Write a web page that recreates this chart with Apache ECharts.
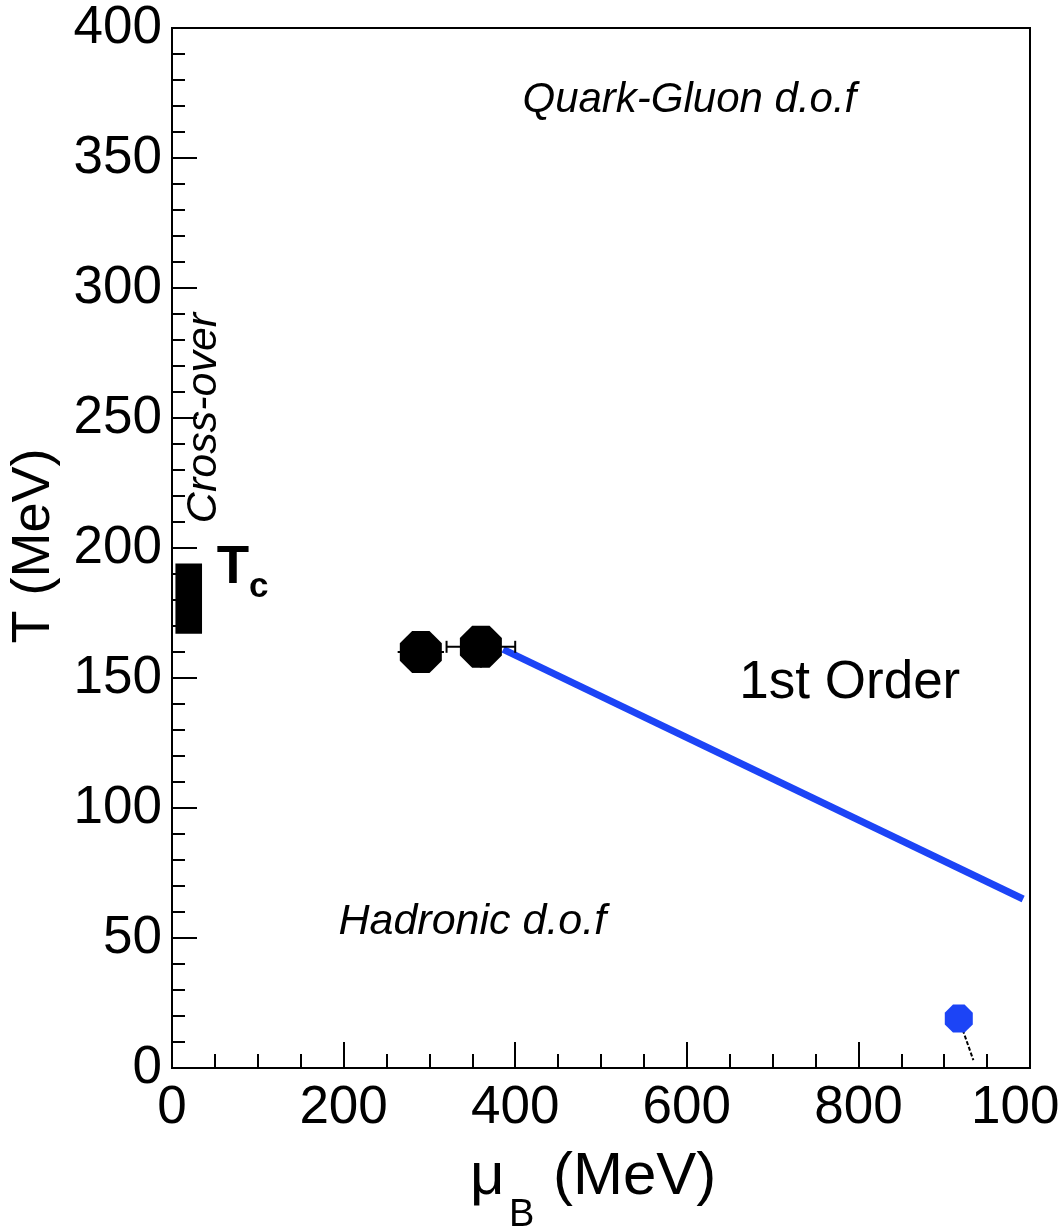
<!DOCTYPE html>
<html>
<head>
<meta charset="utf-8">
<script src="https://cdn.jsdelivr.net/npm/echarts@6/dist/echarts.min.js"></script>
<style>
  html, body { margin: 0; padding: 0; background: #ffffff; }
  #chart { width: 1061px; height: 1227px; }
</style>
</head>
<body>
<div id="chart"></div>
<script>
// Lattice estimate of the cross-over temperature (band in muB and T)
const tcBandMuB = [4, 35];
const tcBandT = [167, 194];

// Critical-point estimates with their uncertainties
const cpMuB = [290, 360];
const cpT = [160, 162];
const cpMuErr = [27, 40];
const cpTErr = [8, 8];

// First-order transition line
const firstOrderMuB = [386, 992];
const firstOrderT = [161, 65];

// Nuclear liquid-gas point and its leader line
const nuclearMuB = [917];
const nuclearT = [19];
const leaderMuB = [917, 934];
const leaderT = [19, 3];

// Region labels (anchor in muB / T)
const regionTexts = ['Quark-Gluon d.o.f', 'Hadronic d.o.f', '1st Order', 'Cross-over', 'T', 'c'];
const regionMuB = [603, 350, 790, 37, 71, 101];
const regionT = [372, 56, 148, 250, 192, 185];

const FONT = '"Liberation Sans", Arial, Helvetica, sans-serif';
const BLUE = '#1c44f6';
const OCTAGON = 'path://M0.383,-0.924L0.924,-0.383L0.924,0.383L0.383,0.924L-0.383,0.924L-0.924,0.383L-0.924,-0.383L-0.383,-0.924Z';
// whisker end-cap half heights (px) for each critical-point estimate
const CAP_HALF = [0, 6];

const regionStyles = [
  { fontSize: 42, fontStyle: 'italic', fontWeight: 'normal', rotate: 0 },
  { fontSize: 43, fontStyle: 'italic', fontWeight: 'normal', rotate: 0 },
  { fontSize: 53, fontStyle: 'normal', fontWeight: 'normal', rotate: 0 },
  { fontSize: 43, fontStyle: 'italic', fontWeight: 'normal', rotate: Math.PI / 2 },
  { fontSize: 53, fontStyle: 'normal', fontWeight: 'bold', rotate: 0 },
  { fontSize: 35, fontStyle: 'normal', fontWeight: 'bold', rotate: 0 }
];

const zip = (a, b) => a.map((v, i) => [v, b[i]]);

const chart = echarts.init(document.getElementById('chart'), null, { renderer: 'canvas' });

const axisCommon = {
  type: 'value',
  axisLine: { show: true, lineStyle: { color: '#000', width: 2 } },
  axisTick: { show: true, inside: true, lineStyle: { color: '#000', width: 2 } },
  minorTick: { show: true, lineStyle: { color: '#000', width: 2 } },
  splitLine: { show: false },
  minorSplitLine: { show: false },
  axisLabel: { color: '#000', fontSize: 53, fontFamily: FONT, formatter: (v) => String(v) }
};

chart.setOption({
  animation: false,
  backgroundColor: '#ffffff',
  grid: {
    left: 172, right: 31, top: 28, bottom: 159,
    containLabel: false,
    outerBoundsMode: 'none',
    show: true, borderColor: '#000', borderWidth: 2, backgroundColor: 'transparent'
  },
  xAxis: Object.assign({}, axisCommon, {
    min: 0, max: 1000, interval: 200,
    axisTick: Object.assign({}, axisCommon.axisTick, { length: 26 }),
    minorTick: Object.assign({}, axisCommon.minorTick, { splitNumber: 4, length: 14 }),
    axisLabel: Object.assign({}, axisCommon.axisLabel, { margin: 14, hideOverlap: false })
  }),
  yAxis: Object.assign({}, axisCommon, {
    min: 0, max: 400, interval: 50,
    axisTick: Object.assign({}, axisCommon.axisTick, { length: 25 }),
    minorTick: Object.assign({}, axisCommon.minorTick, { splitNumber: 5, length: 13 }),
    axisLabel: Object.assign({}, axisCommon.axisLabel, { margin: 10 })
  }),
  graphic: [
    {
      type: 'text', x: 34, y: 546, rotation: Math.PI / 2,
      style: { text: 'T (MeV)', fontSize: 54, fontFamily: FONT, fill: '#000', align: 'center', verticalAlign: 'middle' }
    },
    {
      type: 'text', x: 470, y: 1177,
      style: { text: 'μ', fontSize: 60, fontFamily: FONT, fill: '#000', align: 'left', verticalAlign: 'middle' }
    },
    {
      type: 'text', x: 509, y: 1216,
      style: { text: 'B', fontSize: 38, fontFamily: FONT, fill: '#000', align: 'left', verticalAlign: 'middle' }
    },
    {
      type: 'text', x: 553, y: 1177,
      style: { text: '(MeV)', fontSize: 60, fontFamily: FONT, fill: '#000', align: 'left', verticalAlign: 'middle' }
    }
  ],
  series: [
    {
      // cross-over temperature band
      type: 'custom',
      z: 3,
      data: [[tcBandMuB[0], tcBandMuB[1], tcBandT[0], tcBandT[1]]],
      renderItem: function (params, api) {
        const p0 = api.coord([api.value(0), api.value(3)]);
        const p1 = api.coord([api.value(1), api.value(2)]);
        return {
          type: 'rect',
          shape: { x: p0[0], y: p0[1], width: p1[0] - p0[0], height: p1[1] - p0[1] },
          style: { fill: '#000' }
        };
      }
    },
    {
      // first-order line
      type: 'line',
      z: 2,
      data: zip(firstOrderMuB, firstOrderT),
      symbol: 'none',
      lineStyle: { color: BLUE, width: 7, cap: 'butt', opacity: 1 }
    },
    {
      // error bars of the critical-point estimates
      type: 'custom',
      z: 4,
      data: cpMuB.map((m, i) => [m, cpT[i], cpMuErr[i], cpTErr[i], i]),
      renderItem: function (params, api) {
        const x = api.value(0), y = api.value(1), ex = api.value(2), ey = api.value(3);
        const cap = CAP_HALF[api.value(4)];
        const l = api.coord([x - ex, y]);
        const r = api.coord([x + ex, y]);
        const t = api.coord([x, y + ey]);
        const b = api.coord([x, y - ey]);
        const st = { stroke: '#000', lineWidth: 2 };
        const children = [
          { type: 'line', shape: { x1: l[0], y1: l[1], x2: r[0], y2: r[1] }, style: st },
          { type: 'line', shape: { x1: t[0], y1: t[1], x2: b[0], y2: b[1] }, style: st }
        ];
        if (cap > 0) {
          children.push(
            { type: 'line', shape: { x1: l[0], y1: l[1] - cap, x2: l[0], y2: l[1] + cap }, style: st },
            { type: 'line', shape: { x1: r[0], y1: r[1] - cap, x2: r[0], y2: r[1] + cap }, style: st }
          );
        }
        return { type: 'group', children: children };
      }
    },
    {
      type: 'scatter',
      z: 5,
      data: zip(cpMuB, cpT),
      symbol: OCTAGON,
      symbolSize: 42,
      itemStyle: { color: '#000', opacity: 1 }
    },
    {
      // leader line below the nuclear point
      type: 'line',
      z: 5,
      data: zip(leaderMuB, leaderT),
      symbol: 'none',
      lineStyle: { color: '#000', width: 2, type: [4, 2] }
    },
    {
      type: 'scatter',
      z: 6,
      data: zip(nuclearMuB, nuclearT),
      symbol: OCTAGON,
      symbolSize: 28,
      itemStyle: { color: BLUE, opacity: 1 }
    },
    {
      // region labels
      type: 'custom',
      z: 7,
      data: regionTexts.map((t, i) => [regionMuB[i], regionT[i], i]),
      renderItem: function (params, api) {
        const i = api.value(2);
        const p = api.coord([api.value(0), api.value(1)]);
        const s = regionStyles[i];
        return {
          type: 'text',
          x: p[0], y: p[1],
          rotation: s.rotate,
          style: {
            text: regionTexts[i],
            fontSize: s.fontSize,
            fontStyle: s.fontStyle,
            fontWeight: s.fontWeight,
            fontFamily: FONT,
            fill: '#000',
            align: 'center',
            verticalAlign: 'middle'
          }
        };
      }
    }
  ]
});
</script>
</body>
</html>
